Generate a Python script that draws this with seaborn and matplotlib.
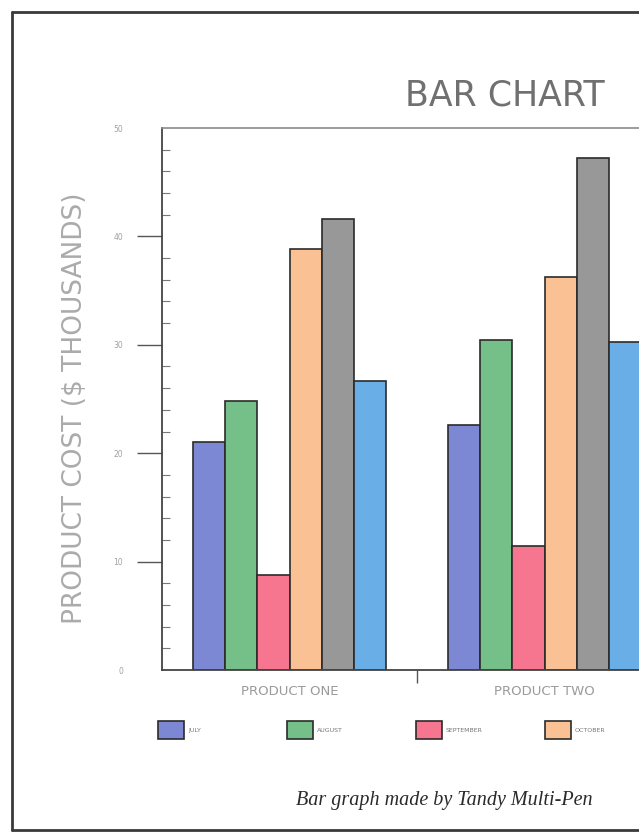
import matplotlib
matplotlib.use("Agg")
import matplotlib.pyplot as plt
from matplotlib.lines import Line2D
from matplotlib.ticker import MultipleLocator
import numpy as np
import pandas as pd
import seaborn as sns

products = ["PRODUCT ONE", "PRODUCT TWO"]
months = ["JULY", "AUGUST", "SEPTEMBER", "OCTOBER", "NOVEMBER", "DECEMBER"]
cost_one = [21.0, 24.8, 8.8, 38.8, 41.6, 26.7]
cost_two = [22.6, 30.4, 11.4, 36.3, 47.2, 30.3]
month_colors = ["#7d88d4", "#74c088", "#f6768f", "#fac294", "#989898", "#6aaee8"]

df = pd.DataFrame({
    "product": np.repeat(products, len(months)),
    "month": months * len(products),
    "cost": cost_one + cost_two,
})

sns.set_style("white")
plt.rcParams["font.family"] = ["DejaVu Sans"]

fig = plt.figure(figsize=(6.39, 8.33), dpi=100)
W, H = 639, 833
ax = fig.add_axes([162 / W, 1 - 670 / H, (W - 162) / W, (670 - 128) / H])

sns.barplot(data=df, x="product", y="cost", hue="month", hue_order=months,
            palette=month_colors, width=0.76, edgecolor="#2b2b2b",
            linewidth=1.2, saturation=1, errorbar=None, ax=ax)

handles, labels = ax.get_legend_handles_labels()
ax.get_legend().remove()

ax.set_xlim(-0.5, 1 + (W - 544.5) / 255)
ax.set_ylim(0, 50)
ax.set_xlabel("")
ax.set_ylabel("")

# spines
for s in ["left", "bottom"]:
    ax.spines[s].set_color("#444444")
    ax.spines[s].set_linewidth(1.3)
ax.spines["top"].set_color("#8a8a8a")
ax.spines["top"].set_linewidth(1.2)
ax.spines["right"].set_visible(False)

# x ticks: labels at groups, one tick mark between them
ax.set_xticks([0, 1], products)
ax.set_xticks([0.5], minor=True)
ax.tick_params(axis="x", which="major", length=0, pad=11, labelsize=9.5,
               labelcolor="#9a9a9a")
ax.tick_params(axis="x", which="minor", length=9, width=1, color="#555555",
               direction="out", bottom=True)

# y ticks
ax.set_yticks([0, 10, 20, 30, 40, 50])
ax.yaxis.set_minor_locator(MultipleLocator(2))
ax.tick_params(axis="y", which="major", length=18, width=1, color="#555555",
               direction="out", left=True, pad=10, labelsize=5.5,
               labelcolor="#a0a0a0")
ax.tick_params(axis="y", which="minor", length=6, width=0.8, color="#777777",
               direction="in", left=True)
yt = ax.yaxis.get_major_ticks()
yt[0].tick1line.set_visible(False)
yt[-1].tick1line.set_visible(False)

fig.text(505 / W, 1 - 95 / H, "BAR CHART", ha="center", va="center",
         fontsize=25, color="#707070")
fig.text(75 / W, 1 - 408 / H, "PRODUCT COST ($ THOUSANDS)", rotation=90,
         ha="center", va="center", fontsize=19, color="#ababab")

# legend: one entry per column, evenly spaced like the plotter output;
# only the columns that fall inside the (cropped) sheet are drawn
for i, (h, lab) in enumerate(zip(handles, labels)):
    x0 = (158 + i * 129) / W
    if x0 > 0.9:
        break
    fig.legend([h], [lab], loc="center left",
               bbox_to_anchor=(x0, 1 - 730 / H),
               frameon=False, fontsize=4.5, handlelength=4.2,
               handleheight=4.0, handletextpad=0.6, borderpad=0,
               borderaxespad=0, labelcolor="#777777")

fig.text(444 / W, 1 - 800 / H, "Bar graph made by Tandy Multi-Pen",
         ha="center", va="center", fontsize=14.5, style="italic",
         family=["Liberation Serif", "DejaVu Serif"], color="#2a2a2a")

# outer drawn border
bx, by_top, by_bot = 12 / W, 1 - 12 / H, 1 - 830 / H
for xs, ys in [([bx, bx], [by_top, by_bot]), ([bx, 1.0], [by_top, by_top]),
               ([bx, 1.0], [by_bot, by_bot])]:
    fig.add_artist(Line2D(xs, ys, transform=fig.transFigure,
                          color="#3a3a3a", linewidth=2))

fig.savefig("out.png", dpi=100)
